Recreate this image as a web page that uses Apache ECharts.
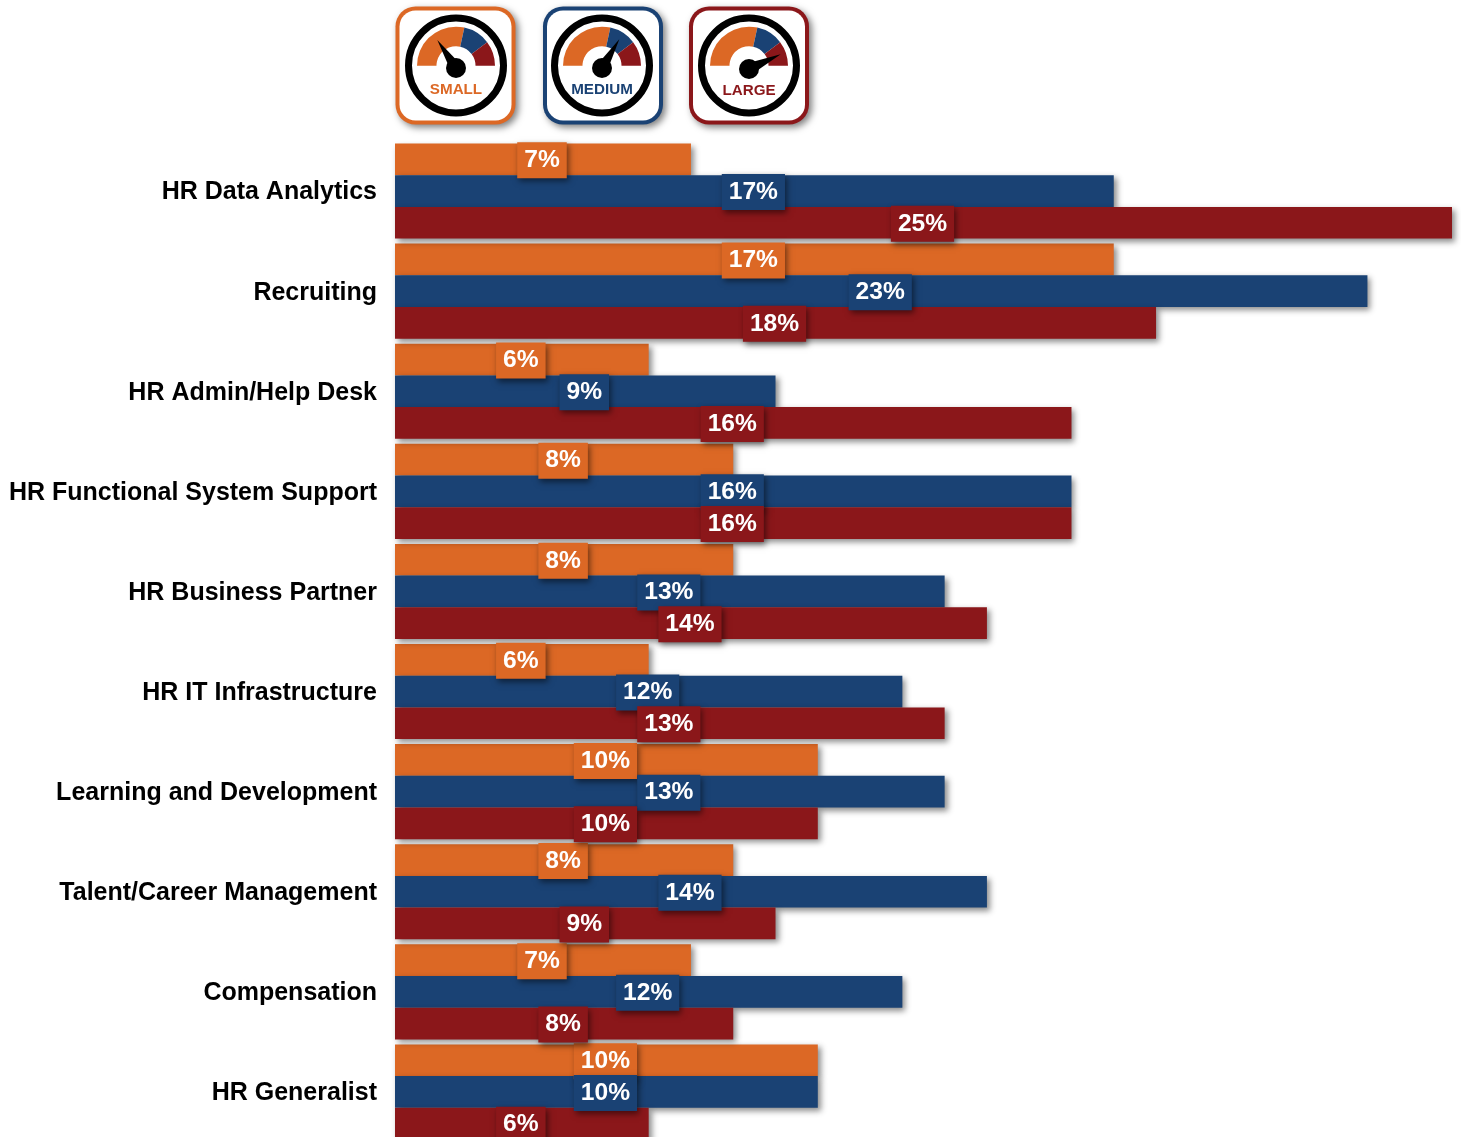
<!DOCTYPE html>
<html>
<head>
<meta charset="utf-8">
<style>html,body{margin:0;padding:0;background:#fff;overflow:hidden}#c{width:1461px;height:1137px}</style>
<script src="https://cdn.jsdelivr.net/npm/echarts@6/dist/echarts.min.js"></script>
</head>
<body>
<div id="c"></div>
<script>
const categories = ['HR Data Analytics','Recruiting','HR Admin/Help Desk','HR Functional System Support','HR Business Partner','HR IT Infrastructure','Learning and Development','Talent/Career Management','Compensation','HR Generalist'];
const small = [7,17,6,8,8,6,10,8,7,10];
const medium = [17,23,9,16,13,12,13,14,12,10];
const large = [25,18,16,16,14,13,10,9,8,6];
const ORANGE = '#DC6825', BLUE = '#1A4274', RED = '#8B171A';
const FONT = '"Liberation Sans", Arial, sans-serif';

function series(name, data, color) {
  return {
    name, type: 'bar', data,
    barWidth: 31.7, barGap: 0,
    itemStyle: { color, shadowColor: 'rgba(0,0,0,0.45)', shadowBlur: 6, shadowOffsetX: 3, shadowOffsetY: 3 },
    label: {
      show: true, position: 'inside', formatter: '{c}%', offset: [-1, 1],
      color: '#fff', fontFamily: FONT, fontWeight: 'bold', fontSize: 24.6, lineHeight: 28,
      backgroundColor: color, padding: [5.5, 7, 2.5, 7],
      shadowColor: 'rgba(0,0,0,0.5)', shadowBlur: 6, shadowOffsetX: 2, shadowOffsetY: 3
    },
    emphasis: { disabled: true }
  };
}

function deg(a) { return -a * Math.PI / 180; }
function icon(cx, boxX, boxW, color, labelText, tip, hubY, textY) {
  const cyR = 65.5, cyA = 65.7;
  const els = [];
  els.push({ type: 'rect', shape: { x: boxX - 2, y: 6.5, width: boxW + 4, height: 118, r: 20 },
    style: { fill: color, shadowColor: 'rgba(0,0,0,0.5)', shadowBlur: 7, shadowOffsetX: 3, shadowOffsetY: 3 } });
  els.push({ type: 'rect', shape: { x: boxX + 2, y: 10.5, width: boxW - 4, height: 110, r: 16 }, style: { fill: '#fff' } });
  els.push({ type: 'circle', shape: { cx, cy: cyR, r: 47.5 }, style: { fill: '#fff', stroke: '#000', lineWidth: 7 } });
  [[180, 77.6, ORANGE], [77.6, 37, BLUE], [37, 0, RED]].forEach(([a, b, col]) => {
    els.push({ type: 'sector', shape: { cx, cy: cyA, r: 39, r0: 19.5, startAngle: deg(a), endAngle: deg(b), clockwise: true }, style: { fill: col } });
  });
  const dx = tip[0] - cx, dy = tip[1] - hubY, L = Math.hypot(dx, dy), nx = -dy / L * 6, ny = dx / L * 6;
  els.push({ type: 'polygon', shape: { points: [tip, [cx + nx, hubY + ny], [cx - nx, hubY - ny]] }, style: { fill: '#000' } });
  els.push({ type: 'circle', shape: { cx, cy: hubY, r: 10 }, style: { fill: '#000' } });
  els.push({ type: 'text', style: { x: cx, y: textY, text: labelText, fill: color, font: 'bold 15.2px ' + FONT, textAlign: 'center', textVerticalAlign: 'middle' } });
  return els;
}

const graphicElements = [].concat(
  icon(456, 397.5, 116, ORANGE, 'SMALL', [437.3, 40], 68, 89.5),
  icon(602, 545, 116, BLUE, 'MEDIUM', [619.3, 39.3], 68, 89.5),
  icon(749, 691, 116, RED, 'LARGE', [780.7, 54.3], 69, 90.5)
);

const chart = echarts.init(document.getElementById('c'), null, { renderer: 'canvas' });
chart.setOption({
  animation: false,
  backgroundColor: '#fff',
  grid: { left: 395, top: 141, width: 1057, height: 1001, containLabel: false, outerBoundsMode: 'none' },
  xAxis: { type: 'value', min: 0, max: 25, show: false },
  yAxis: {
    type: 'category', data: categories, inverse: true,
    axisLine: { show: false }, axisTick: { show: false }, splitLine: { show: false },
    axisLabel: {
      margin: 18, interval: 0,
      formatter: '{t|{value}}',
      rich: { t: { color: '#000', fontFamily: FONT, fontWeight: 'bold', fontSize: 25, padding: [3, 0, 0, 0] } }
    }
  },
  series: [series('Small', small, ORANGE), series('Medium', medium, BLUE), series('Large', large, RED)],
  graphic: { elements: graphicElements.map(e => Object.assign({ silent: true }, e)) }
});
</script>
</body>
</html>
